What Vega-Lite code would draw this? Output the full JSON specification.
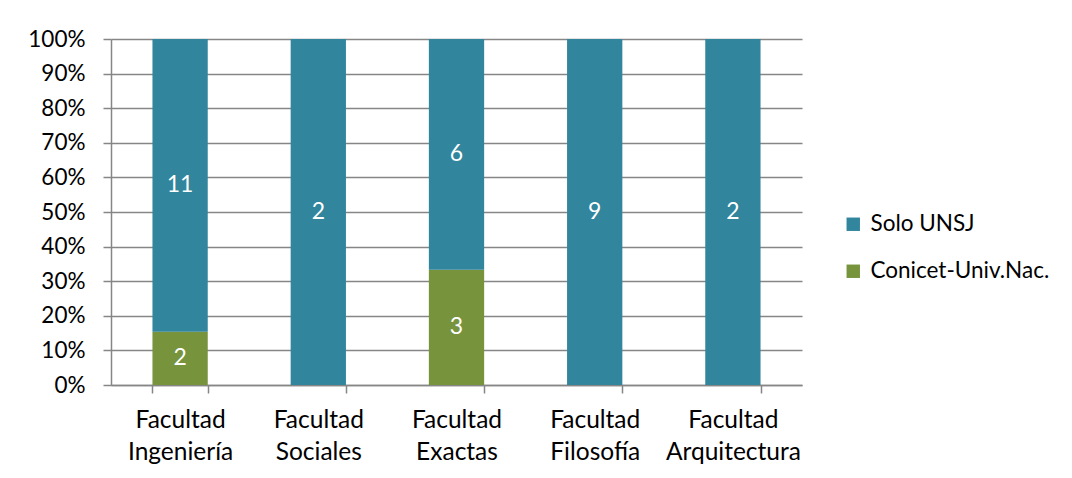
{
  "$schema": "https://vega.github.io/schema/vega-lite/v6.json",
  "width": 691,
  "height": 346,
  "autosize": "none",
  "padding": {"left": 111, "top": 39, "right": 270, "bottom": 93},
  "background": "white",
  "config": {"view": {"stroke": null}, "font": "Lato"},
  "data": {
    "values": [
      {"facultad": "Facultad Ingeniería", "serie": "Conicet-Univ.Nac.", "n": 2},
      {"facultad": "Facultad Ingeniería", "serie": "Solo UNSJ", "n": 11},
      {"facultad": "Facultad Sociales", "serie": "Solo UNSJ", "n": 2},
      {"facultad": "Facultad Exactas", "serie": "Conicet-Univ.Nac.", "n": 3},
      {"facultad": "Facultad Exactas", "serie": "Solo UNSJ", "n": 6},
      {"facultad": "Facultad Filosofía", "serie": "Solo UNSJ", "n": 9},
      {"facultad": "Facultad Arquitectura", "serie": "Solo UNSJ", "n": 2}
    ]
  },
  "transform": [
    {"stack": "n", "groupby": ["facultad"], "sort": [{"field": "serie", "order": "ascending"}], "offset": "normalize", "as": ["y0", "y1"]},
    {"calculate": "(datum.y0 + datum.y1) / 2", "as": "ymid"}
  ],
  "encoding": {
    "x": {
      "field": "facultad",
      "type": "nominal",
      "sort": ["Facultad Ingeniería", "Facultad Sociales", "Facultad Exactas", "Facultad Filosofía", "Facultad Arquitectura"],
      "scale": {"paddingInner": 0.6, "paddingOuter": 0.3},
      "axis": {
        "title": null,
        "labelAngle": 0,
        "labelExpr": "split(datum.label, ' ')",
        "labelFontSize": 24.5,
        "labelLineHeight": 32,
        "labelColor": "#000000",
        "labelPadding": 15,
        "labelLimit": 300,
        "tickBand": "extent",
        "tickSize": 8,
        "tickColor": "#868686",
        "tickWidth": 1.5,
        "domainColor": "#868686",
        "domainWidth": 1.5,
        "grid": false
      }
    }
  },
  "resolve": {"axis": {"y": "independent"}},
  "layer": [
    {
      "mark": {"type": "bar"},
      "encoding": {
        "y": {
          "field": "y0",
          "type": "quantitative",
          "scale": {"domain": [0, 1], "nice": false},
          "axis": {
            "title": null,
            "format": "%",
            "values": [0, 0.1, 0.2, 0.3, 0.4, 0.5, 0.6, 0.7, 0.8, 0.9, 1],
            "labelOverlap": false,
            "labelFlush": false,
            "labelFontSize": 22.5,
            "labelColor": "#000000",
            "labelPadding": 18,
            "tickSize": 8,
            "tickColor": "#868686",
            "tickWidth": 1.5,
            "domainColor": "#868686",
            "domainWidth": 1.5,
            "grid": true,
            "gridColor": "#868686",
            "gridWidth": 1.5
          }
        },
        "y2": {"field": "y1"},
        "color": {
          "field": "serie",
          "type": "nominal",
          "scale": {"domain": ["Solo UNSJ", "Conicet-Univ.Nac."], "range": ["#31859C", "#77933C"]},
          "legend": {
            "title": null,
            "orient": "none",
            "legendX": 731,
            "legendY": 174,
            "symbolType": "square",
            "symbolSize": 180,
            "symbolStrokeWidth": 0,
            "labelFontSize": 22.5,
            "labelLimit": 300,
            "labelColor": "#000000",
            "labelOffset": 6,
            "rowPadding": 24
          }
        }
      }
    },
    {
      "mark": {"type": "text", "color": "white", "fontSize": 23, "baseline": "middle"},
      "encoding": {
        "y": {"field": "ymid", "type": "quantitative", "axis": null},
        "text": {"field": "n", "type": "quantitative"}
      }
    }
  ]
}
